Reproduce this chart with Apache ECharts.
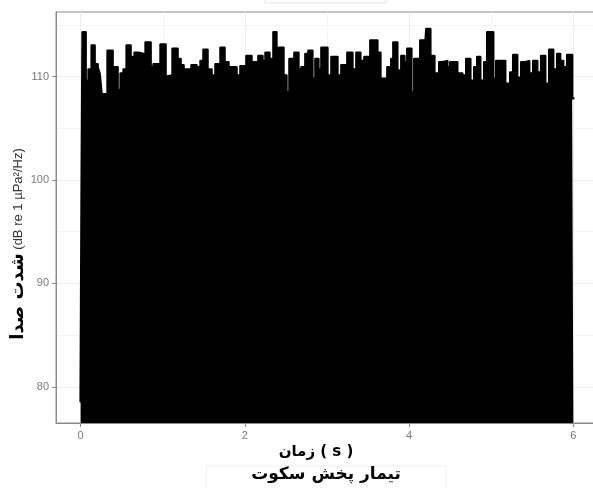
<!DOCTYPE html>
<html>
<head>
<meta charset="utf-8">
<script src="https://cdn.jsdelivr.net/npm/echarts@6/dist/echarts.min.js"></script>
<style>
html,body{margin:0;padding:0;background:#fff;}
#c{width:593px;height:488px;}
</style>
</head>
<body>
<div id="c"></div>
<script>
// time (s) at the start of each step, and the level (dB) held until the next time
const times = [0.000,0.012,0.024,0.061,0.097,0.134,0.170,0.207,0.231,0.255,0.328,0.389,0.450,0.487,0.523,0.560,0.608,0.657,0.706,0.766,0.791,0.852,0.888,0.973,1.034,1.058,1.119,1.180,1.217,1.253,1.350,1.411,1.460,1.496,1.545,1.594,1.642,1.703,1.752,1.800,1.898,1.946,2.019,2.080,2.165,2.214,2.251,2.299,2.348,2.384,2.409,2.470,2.506,2.543,2.603,2.652,2.689,2.737,2.774,2.822,2.859,2.895,2.932,3.005,3.054,3.127,3.175,3.248,3.309,3.358,3.406,3.455,3.528,3.613,3.650,3.662,3.735,3.783,3.808,3.856,3.905,3.942,3.978,4.027,4.063,4.136,4.185,4.209,4.258,4.307,4.367,4.404,4.465,4.501,4.586,4.647,4.696,4.745,4.793,4.830,4.866,4.915,4.951,5.024,5.061,5.170,5.231,5.268,5.316,5.365,5.414,5.462,5.511,5.560,5.608,5.657,5.706,5.754,5.803,5.839,5.876,5.925,5.985,6.000];
const levels = [78.6,98.5,114.3,109.6,110.7,113.0,111.2,110.9,110.3,108.3,112.5,110.9,108.7,110.3,110.7,113.0,111.9,112.3,112.2,110.7,113.3,110.9,111.2,113.1,110.0,110.1,112.7,111.7,111.1,110.7,111.1,110.9,111.5,112.6,110.7,110.1,111.2,112.8,111.4,110.9,110.1,111.0,112.0,111.4,112.0,111.5,112.3,111.7,114.3,110.7,112.8,110.1,108.5,111.7,112.3,110.7,110.9,112.2,112.5,109.8,111.7,110.7,112.8,110.1,111.9,110.1,111.1,112.3,110.7,112.3,111.5,111.9,113.5,112.3,108.5,109.8,110.9,111.7,113.3,110.6,112.0,111.4,112.7,108.5,111.7,113.5,111.2,114.6,112.0,110.3,111.4,111.5,110.9,111.4,110.3,110.1,111.7,109.6,110.9,111.9,109.6,111.4,114.3,109.8,111.5,109.3,110.4,112.1,109.9,111.4,111.5,110.3,111.5,110.4,112.0,109.3,112.6,110.7,112.2,111.5,110.9,112.1,107.9,107.9];
const xTickValues = [0, 2, 4, 6];
const xMinorValues = [1, 3, 5];
const yTickValues = [80, 90, 100, 110];
const yMinorValues = [85, 95, 105, 115];
const yTitleFa = 'شدت صدا';
const yTitleEn = ' (dB re 1 µPa²/Hz)';
const xTitle1 = 'زمان ( s )';
const xTitle2 = 'تیمار پخش سکوت';

const seriesData = times.map((t, i) => [t, levels[i]]);

const chart = echarts.init(document.getElementById('c'), null, {renderer: 'canvas'});
const GRID = {left: 56, top: 12, width: 542, height: 411};
const labelColor = '#7a7a7a';
const gridColor = '#ebebeb';

chart.setOption({
  animation: false,
  backgroundColor: '#ffffff',
  grid: {left: GRID.left, top: GRID.top, width: GRID.width, height: GRID.height, show: true, borderColor: '#8a8a8a', borderWidth: 1, backgroundColor: 'transparent', outerBoundsMode: 'none', containLabel: false},
  xAxis: [{
    type: 'value', min: -0.3, max: 6.3, z: 0,
    axisLine: {show: true, onZero: false, lineStyle: {color: '#8a8a8a', width: 1}},
    axisTick: {show: true, length: 4, customValues: xTickValues, lineStyle: {color: '#8a8a8a'}},
    axisLabel: {show: true, customValues: xTickValues, margin: 7, color: labelColor, fontSize: 11, fontFamily: 'Liberation Sans, Arial, sans-serif'},
    splitLine: {show: true, lineStyle: {color: gridColor, width: 1}}
  }, {
    type: 'value', min: -0.3, max: 6.3, position: 'bottom', z: 0,
    axisLine: {show: false}, axisLabel: {show: false},
    axisTick: {show: false, customValues: xMinorValues},
    splitLine: {show: true, lineStyle: {color: '#f4f4f4', width: 1}}
  }],
  yAxis: [{
    type: 'value', min: 76.5, max: 116.25, z: 0,
    axisLine: {show: true, onZero: false, lineStyle: {color: '#8a8a8a', width: 1}},
    axisTick: {show: true, length: 4, customValues: yTickValues, lineStyle: {color: '#8a8a8a'}},
    axisLabel: {show: true, customValues: yTickValues, margin: 7, color: labelColor, fontSize: 11, fontFamily: 'Liberation Sans, Arial, sans-serif'},
    splitLine: {show: true, lineStyle: {color: gridColor, width: 1}}
  }, {
    type: 'value', min: 76.5, max: 116.25, position: 'left', z: 0,
    axisLine: {show: false}, axisLabel: {show: false},
    axisTick: {show: false, customValues: yMinorValues},
    splitLine: {show: true, lineStyle: {color: '#f4f4f4', width: 1}}
  }],
  series: [{
    type: 'line',
    xAxisIndex: 0, yAxisIndex: 0,
    data: seriesData,
    step: 'end',
    symbol: 'none',
    clip: true,
    z: 2,
    lineStyle: {color: '#000', width: 2.5, join: 'round', cap: 'round'},
    areaStyle: {color: '#000', opacity: 1, origin: 'start'}
  }],
  graphic: [
    {type: 'rect', shape: {x: 265, y: -12, width: 121, height: 15}, style: {fill: 'transparent', stroke: '#e4e4e4', lineWidth: 1}, silent: true},
    {type: 'rect', shape: {x: 206, y: 466, width: 240, height: 30}, style: {fill: 'transparent', stroke: '#f0f0f0', lineWidth: 1}, silent: true},
    {
      type: 'text', x: 18, y: 244, rotation: Math.PI / 2,
      style: {
        text: '{a|' + yTitleFa + '}{b|' + yTitleEn + '}',
        align: 'center', verticalAlign: 'middle',
        rich: {
          a: {fontSize: 18, fontWeight: 'bold', fill: '#000', fontFamily: 'DejaVu Sans, sans-serif'},
          b: {fontSize: 13, fill: '#333', fontFamily: 'Liberation Sans, Arial, sans-serif'}
        }
      }
    },
    {
      type: 'text', x: 316, y: 452,
      style: {text: xTitle1, align: 'center', verticalAlign: 'middle', fontSize: 15, fontWeight: 'bold', fill: '#000', fontFamily: 'DejaVu Sans, sans-serif'}
    },
    {
      type: 'text', x: 326, y: 475,
      style: {text: xTitle2, align: 'center', verticalAlign: 'middle', fontSize: 17, fontWeight: 'bold', fill: '#000', fontFamily: 'DejaVu Sans, sans-serif'}
    }
  ]
});
</script>
</body>
</html>
